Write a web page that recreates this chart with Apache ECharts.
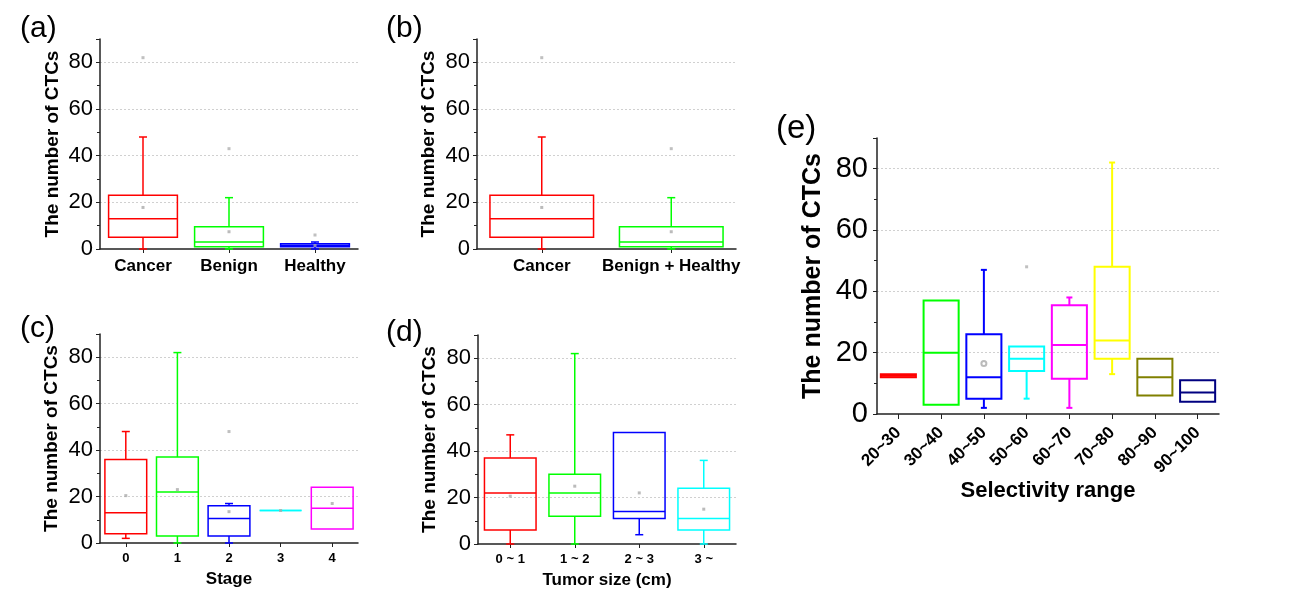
<!DOCTYPE html>
<html><head><meta charset="utf-8">
<script src="https://cdn.jsdelivr.net/npm/echarts@6/dist/echarts.min.js"></script>
<style>html,body{margin:0;padding:0;background:#fff}#c{width:1289px;height:601px}</style>
</head><body><div id="c"></div>
<script>
// ---------- DATA ----------
// box values: [lowWhisker, Q1, median, Q3, highWhisker]
const catA = ['Cancer', 'Benign', 'Healthy'];
const boxA = [[0, 5, 13, 23, 48], [0, 1, 3, 9.5, 22], [0, 1, 1.6, 2.2, 3]];
const colA = ['#FF0000', '#00FF00', '#0000FF'];
const meanA = [17.8, 7.4, 1.5];
const outA = [[0, 82], [1, 43], [2, 6]];

const catB = ['Cancer', 'Benign + Healthy'];
const boxB = [[0, 5, 13, 23, 48], [0, 1, 3, 9.5, 22]];
const colB = ['#FF0000', '#00FF00'];
const meanB = [17.8, 7.4];
const outB = [[0, 82], [1, 43]];

const catC = ['0', '1', '2', '3', '4'];
const boxC = [[2, 4, 13, 36, 48], [0, 3, 22, 37, 82], [0, 3, 10.5, 16, 17], [14, 14, 14, 14, 14], [6, 6, 15, 24, 24]];
const colC = ['#FF0000', '#00FF00', '#0000FF', '#00FFFF', '#FF00FF'];
const meanC = [20.4, 23, 13.5, 14, 17];
const outC = [[2, 48]];

const catD = ['0 ~ 1', '1 ~ 2', '2 ~ 3', '3 ~'];
const boxD = [[0, 6, 22, 37, 47], [0, 12, 22, 30, 82], [4, 11, 14, 48, 48], [0, 6, 11, 24, 36]];
const colD = ['#FF0000', '#00FF00', '#0000FF', '#00FFFF'];
const meanD = [20.6, 24.9, 22, 15];
const outD = [];

const catE = ['20~30', '30~40', '40~50', '50~60', '60~70', '70~80', '80~90', '90~100'];
const boxE = [[12, 12, 12.5, 13, 13], [3, 3, 20, 37, 37], [2, 5, 12, 26, 47], [5, 14, 18, 22, 22],
              [2, 11.5, 22.5, 35.5, 38], [13, 18, 24, 48, 82], [6, 6, 12, 18, 18], [4, 4, 7, 11, 11]];
const colE = ['#FF0000', '#00FF00', '#0000FF', '#00FFFF', '#FF00FF', '#FFFF00', '#808000', '#000080'];
const meanE = [[2, 16.5]];
const outE = [[3, 48]];

const yTicks = { min: 0, max: 90, interval: 20 };

// ---------- CHART ----------
const FONT = '"Liberation Sans", Arial, sans-serif';
const chart = echarts.init(document.getElementById('c'), null, { renderer: 'canvas' });

function makeRender(lw, cap, frac) {
  return function (params, api) {
    const i = api.value(0);
    const v = [1, 2, 3, 4, 5].map(d => api.value(d));
    const p = v.map(val => api.coord([i, val]));
    const cx = p[0][0];
    const y = p.map(q => q[1]);
    const band = api.size([1, 0])[0];
    const w = band * frac;
    const color = api.visual('color');
    const st = { stroke: color, lineWidth: lw, fill: 'none' };
    const ch = [];
    ch.push({ type: 'rect', shape: { x: cx - w / 2, y: y[3], width: w, height: y[1] - y[3] }, style: st });
    ch.push({ type: 'line', shape: { x1: cx - w / 2, y1: y[2], x2: cx + w / 2, y2: y[2] }, style: st });
    if (v[4] > v[3]) {
      ch.push({ type: 'line', shape: { x1: cx, y1: y[3], x2: cx, y2: y[4] }, style: st });
      ch.push({ type: 'line', shape: { x1: cx - cap, y1: y[4], x2: cx + cap, y2: y[4] }, style: st });
    }
    if (v[0] < v[1]) {
      ch.push({ type: 'line', shape: { x1: cx, y1: y[1], x2: cx, y2: y[0] }, style: st });
      ch.push({ type: 'line', shape: { x1: cx - cap, y1: y[0], x2: cx + cap, y2: y[0] }, style: st });
    }
    return { type: 'group', children: ch };
  };
}

const panels = [
  { cats: catA, box: boxA, col: colA, mean: meanA.map((m, i) => [i, m]), out: outA,
    grid: { left: 100, top: 39, width: 258, height: 210 }, lbl: 22, nm: 19, nGap: 38, xl: 17, xName: '', xGap: 0, rot: 0, lw: 1.5, cap: 4, frac: 0.8,
    letter: '(a)', lx: 20, ly: 14, lfs: 30 },
  { cats: catB, box: boxB, col: colB, mean: meanB.map((m, i) => [i, m]), out: outB,
    grid: { left: 477, top: 39, width: 259, height: 210 }, lbl: 22, nm: 19, nGap: 39, xl: 17, xName: '', xGap: 0, rot: 0, lw: 1.5, cap: 4, frac: 0.8,
    letter: '(b)', lx: 386, ly: 14, lfs: 30 },
  { cats: catC, box: boxC, col: colC, mean: meanC.map((m, i) => [i, m]), out: outC,
    grid: { left: 100, top: 334, width: 258, height: 209 }, lbl: 22, nm: 19, nGap: 39, xl: 13, xName: 'Stage', xGap: 28, rot: 0, lw: 1.5, cap: 4, frac: 0.81,
    letter: '(c)', lx: 20, ly: 314, lfs: 30 },
  { cats: catD, box: boxD, col: colD, mean: meanD.map((m, i) => [i, m]), out: outD,
    grid: { left: 478, top: 335, width: 258, height: 209 }, lbl: 22, nm: 19, nGap: 39, xl: 13, xName: 'Tumor size (cm)', xGap: 28, rot: 0, lw: 1.5, cap: 4, frac: 0.8,
    letter: '(d)', lx: 386, ly: 318, lfs: 30 },
  { cats: catE, box: boxE, col: colE, mean: meanE, out: outE,
    grid: { left: 877, top: 138, width: 342, height: 276 }, lbl: 29, nm: 25, nGap: 51, xl: 17, xName: 'Selectivity range', xGap: 63, rot: 45, lw: 2, cap: 3, frac: 0.82,
    letter: '(e)', lx: 776, ly: 112, lfs: 33 }
];

const option = {
  animation: false,
  backgroundColor: '#fff',
  title: [], grid: [], xAxis: [], yAxis: [], series: []
};

panels.forEach((P, gi) => {
  option.title.push({ text: P.letter, left: P.lx, top: P.ly, padding: 0,
    textStyle: { fontSize: P.lfs, fontWeight: 'normal', color: '#000', fontFamily: FONT } });
  option.grid.push(Object.assign({ containLabel: false }, P.grid));
  option.xAxis.push({
    gridIndex: gi, type: 'category', data: P.cats, boundaryGap: true,
    name: P.xName, nameLocation: 'middle', nameGap: P.xGap,
    nameTextStyle: { fontSize: P.rot ? 22 : 17, fontWeight: 'bold', color: '#000', fontFamily: FONT },
    axisLine: { show: true, lineStyle: { color: '#222', width: 1.5 } },
    axisTick: { show: true, alignWithLabel: true, length: P.rot ? 5 : 4, lineStyle: { color: '#222' } },
    axisLabel: { interval: 0, fontSize: P.xl, fontWeight: 'bold', color: '#000', fontFamily: FONT, rotate: P.rot, margin: P.rot ? 16 : 9 },
    splitLine: { show: false }
  });
  option.yAxis.push({
    gridIndex: gi, type: 'value', min: yTicks.min, max: yTicks.max, interval: yTicks.interval,
    name: 'The number of CTCs', nameLocation: 'middle', nameGap: P.nGap,
    nameTextStyle: { fontSize: P.nm, fontWeight: 'bold', color: '#000', fontFamily: FONT },
    axisLine: { show: true, lineStyle: { color: '#222', width: 1.5 } },
    axisTick: { show: true, length: 4, lineStyle: { color: '#222' } },
    minorTick: { show: true, splitNumber: 2, length: 3, lineStyle: { color: '#222' } },
    axisLabel: { fontSize: P.lbl, color: '#000', fontFamily: FONT, margin: P.rot ? 9 : 7, showMaxLabel: false },
    splitLine: { show: true, showMinLine: false, showMaxLine: false, lineStyle: { color: '#d0d0d0', type: [2, 2], width: 1 } }
  });
  option.series.push({
    type: 'custom', xAxisIndex: gi, yAxisIndex: gi, z: 3,
    renderItem: makeRender(P.lw, P.cap, P.frac),
    encode: { x: 0, y: [1, 2, 3, 4, 5] },
    data: P.box.map((b, i) => ({ value: [i].concat(b), itemStyle: { color: P.col[i] } }))
  });
  option.series.push({
    type: 'scatter', xAxisIndex: gi, yAxisIndex: gi, z: 4, silent: true,
    symbol: gi === 4 ? 'emptyCircle' : 'rect', symbolSize: gi === 4 ? 5 : 3,
    itemStyle: { color: '#aaa' }, data: P.mean
  });
  option.series.push({
    type: 'scatter', xAxisIndex: gi, yAxisIndex: gi, z: 4, silent: true,
    symbol: 'rect', symbolSize: 3, itemStyle: { color: '#b0b0b0' }, data: P.out
  });
});

chart.setOption(option);
</script></body></html>
